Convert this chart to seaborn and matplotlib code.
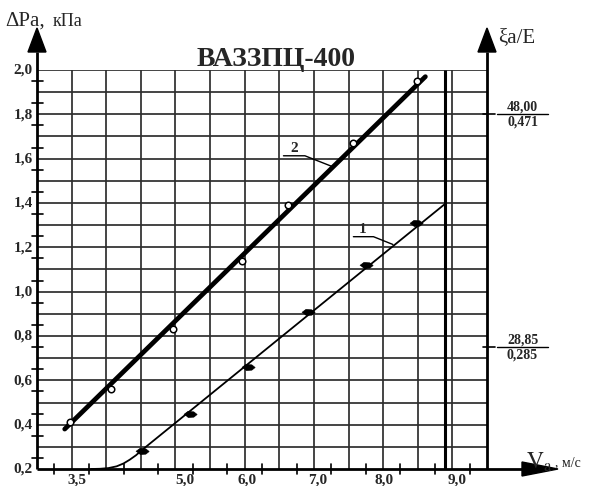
import matplotlib
matplotlib.use("Agg")
import numpy as np
import pandas as pd
import matplotlib.pyplot as plt
import seaborn as sns

# ---- data -------------------------------------------------------------
# Curve 2: measured points (open circles) and the fitted straight line
v_meas2 = [3.48, 4.07, 4.97, 5.96, 6.62, 7.56, 8.49]
dp_meas2 = [0.41, 0.56, 0.83, 1.14, 1.39, 1.67, 1.95]
v_fit2 = [3.40, 8.61]
dp_fit2 = [0.38, 1.97]

# Curve 1: measured points (filled marks) and the fitted curve
v_meas1 = [4.51, 5.21, 6.05, 6.92, 7.75, 8.48]
dp_meas1 = [0.28, 0.45, 0.66, 0.91, 1.12, 1.31]
v_fit1 = [3.78, 3.91, 4.03, 4.15, 4.25, 4.34, 4.43, 4.51, 8.89]
dp_fit1 = [0.200, 0.201, 0.204, 0.212, 0.225, 0.242, 0.262, 0.284, 1.395]

# Axis labelling
x_tick_values = [3.5, 5.0, 6.0, 7.0, 8.0, 9.0]
x_tick_labels = ["3,5", "5,0", "6,0", "7,0", "8,0", "9,0"]
y_tick_values = [0.2, 0.4, 0.6, 0.8, 1.0, 1.2, 1.4, 1.6, 1.8, 2.0]
y_tick_labels = ["0,2", "0,4", "0,6", "0,8", "1,0", "1,2", "1,4", "1,6", "1,8", "2,0"]
right_tick_values = [1.8, 0.75]
right_tick_labels = [("48,00", "0,471"), ("28,85", "0,285")]
title = "ВАЗЗПЦ-400"

# ---- style ------------------------------------------------------------
sns.set_style("white")
plt.rcParams["font.family"] = ["Liberation Serif", "DejaVu Serif"]
plt.rcParams["mathtext.fontset"] = "stix"

W, H = 604, 486
fig = plt.figure(figsize=(W / 100, H / 100), dpi=100)
fig.patch.set_facecolor("white")

X0, X1, Y0, Y1 = 3.0, 9.5, 0.2, 2.0
# plotting frame: x 3.0..9.5 -> px 37..487, y 0.2..2.0 -> px 469..70
ax = fig.add_axes([37 / W, 1 - 469 / H, 450 / W, 399 / H])
ax.set_xlim(X0, X1)
ax.set_ylim(Y0, Y1)
ax.axis("off")

ux = (X1 - X0) / 450.0   # data units per pixel
uy = (Y1 - Y0) / 399.0

grid_kw = dict(color="#2e2e2e", lw=1.25, zorder=1)
ax.hlines(np.arange(0.3, 2.001, 0.1), X0, X1, **grid_kw)
ax.vlines(np.arange(3.5, 9.01, 0.5), Y0, Y1, **grid_kw)
ax.vlines([8.89], Y0, Y1, color="black", lw=2.2, zorder=1)

axis_kw = dict(color="black", lw=2.0, clip_on=False, zorder=3, solid_capstyle="butt")
tip_y = Y1 + 42 * uy
base_y = Y1 + 18 * uy
ax.plot([X0, X0], [Y0, base_y], **axis_kw)
ax.plot([X1, X1], [Y0, base_y], **axis_kw)
for xa in (X0, X1):
    ax.fill([xa - 9 * ux, xa, xa + 9 * ux], [base_y, tip_y, base_y],
            color="black", clip_on=False, zorder=3)
tip_x = X1 + 71 * ux
base_x = X1 + 35 * ux
ax.plot([X0, base_x], [Y0, Y0], **axis_kw)
ax.fill([base_x, tip_x, base_x], [Y0 - 7 * uy, Y0, Y0 + 7 * uy],
        color="black", clip_on=False, zorder=3)

# small ticks crossing the axes
tick_kw = dict(color="black", lw=1.2, clip_on=False, zorder=3)
for xv in np.arange(3.25, 9.3, 0.5):
    ax.plot([xv, xv], [Y0 - 5 * uy, Y0 + 5 * uy], **tick_kw)
for yv in np.arange(0.25, 2.0, 0.1):
    ax.plot([X0 - 5 * ux, X0 + 6 * ux], [yv, yv], **tick_kw)

# ---- curves -----------------------------------------------------------
fit2 = pd.DataFrame({"v": v_fit2, "dp": dp_fit2})
fit1 = pd.DataFrame({"v": v_fit1, "dp": dp_fit1})
meas2 = pd.DataFrame({"v": v_meas2, "dp": dp_meas2})
meas1 = pd.DataFrame({"v": v_meas1, "dp": dp_meas1})

sns.lineplot(data=fit2, x="v", y="dp", ax=ax, color="black", lw=3.4,
             sort=False, zorder=4, legend=False)
sns.lineplot(data=fit1, x="v", y="dp", ax=ax, color="black", lw=1.3,
             sort=False, zorder=4, legend=False)

sns.scatterplot(data=meas2, x="v", y="dp", ax=ax, marker="o", s=22,
                facecolor="white", edgecolor="black", linewidth=1.1, zorder=5)
lens = [(-1.0, 0.0), (-0.4, 0.45), (0.5, 0.4), (1.0, 0.0), (0.5, -0.4), (-0.4, -0.45)]
sns.scatterplot(data=meas1, x="v", y="dp", ax=ax, marker=lens, s=90,
                color="black", edgecolor="black", linewidth=0.5, zorder=5)
ax.set_xlim(X0, X1)
ax.set_ylim(Y0, Y1)
ax.axis("off")

# curve numbers with leader lines
lead_kw = dict(color="black", lw=1.0, zorder=4)
ax.plot([6.56, 6.87, 7.26], [1.613, 1.613, 1.565], **lead_kw)
ax.text(6.71, 1.618, "2", ha="center", va="bottom", fontsize=11, fontweight="bold")
ax.plot([7.57, 7.86, 8.14], [1.248, 1.248, 1.213], **lead_kw)
ax.text(7.71, 1.253, "1", ha="center", va="bottom", fontsize=11, fontweight="bold")

# ---- tick labels ------------------------------------------------------
lab_kw = dict(fontsize=11, fontweight="bold", clip_on=False)
x_label_shift = [0.08, 0.13, 0.04, 0.05, 0.01, 0.07]
for xv, lab, sh in zip(x_tick_values, x_tick_labels, x_label_shift):
    ax.text(xv + sh, Y0 - 14.5 * uy, lab, ha="center", va="baseline", **lab_kw)
for yv, lab in zip(y_tick_values, y_tick_labels):
    ax.text(X0 - 4 * ux, yv - 4 * uy, lab, ha="right", va="baseline", **lab_kw)

for yv, (top, bot) in zip(right_tick_values, right_tick_labels):
    ax.plot([X1 - 4 * ux, X1 + 8 * ux], [yv, yv], color="black", lw=1.2, clip_on=False)
    ax.plot([X1 + 10 * ux, X1 + 61 * ux], [yv, yv], color="black", lw=1.0, clip_on=False)
    ax.text(X1 + 35.5 * ux, yv + 1 * uy, top, ha="center", va="bottom", fontsize=10,
            fontweight="bold", clip_on=False)
    ax.text(X1 + 35.5 * ux, yv - 1 * uy, bot, ha="center", va="top", fontsize=10,
            fontweight="bold", clip_on=False)

# ---- titles and axis names -------------------------------------------
def fx(px):
    return px / W

def fy(py):
    return 1 - py / H

fig.text(fx(276), fy(66), title, ha="center", va="baseline", fontsize=20,
         fontweight="bold")
fig.text(fx(5), fy(26), "ΔPa,", ha="left", va="baseline", fontsize=15)
fig.text(fx(53), fy(26), "кПа", ha="left", va="baseline", fontsize=13)
fig.text(fx(498), fy(42), "ξa/E", ha="left", va="baseline", fontsize=15)
fig.text(fx(526), fy(469), r"$\mathrm{V}_{\mathrm{a}}$", ha="left", va="baseline", fontsize=17)
fig.text(fx(555), fy(466), ", м/с", ha="left", va="baseline", fontsize=10)

fig.savefig("out.png", dpi=100, facecolor="white")
